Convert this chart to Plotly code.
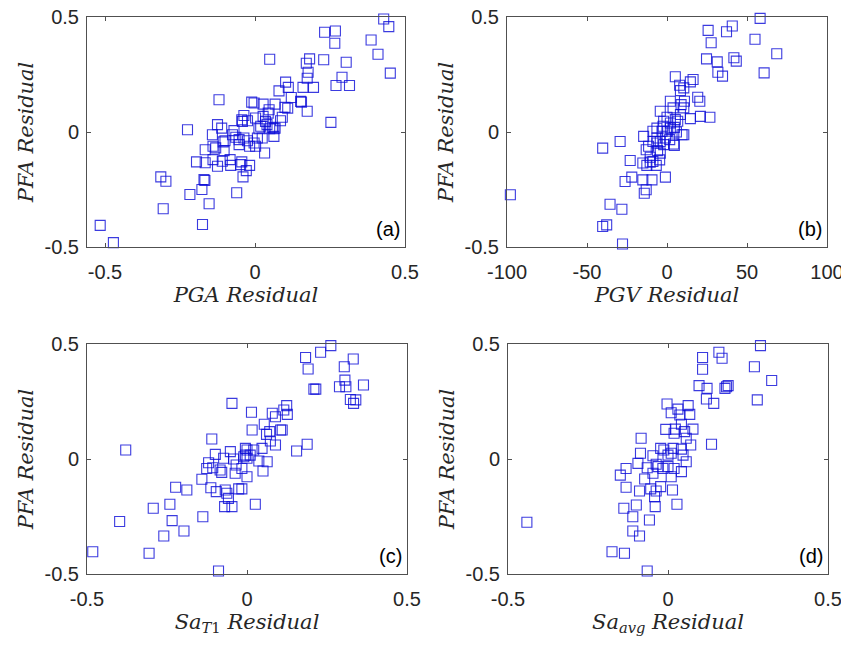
import plotly.graph_objects as go

# ---------------- data ----------------
# Panel (a): PGA residual vs PFA residual
pga_x = [0.429, 0.446, 0.232, 0.268, 0.266, 0.387, 0.41, 0.451, 0.049, 0.182, 0.171, 0.229, 0.304,
         0.29, 0.27, 0.315, 0.177, 0.174, 0.16, 0.195, 0.102, 0.111, 0.08, 0.121, 0.152, 0.155, 0.174,
         0.1, 0.109, 0.067, 0.027, -0.011, -0.003, -0.12, 0.047, 0.044, 0.091, 0.085, 0.253, -0.037,
         -0.044, -0.042, -0.025, 0.002, 0.027, 0.035, 0.04, 0.058, 0.067, 0.063, 0.049, 0.019, 0.013,
         0.063, -0.225, -0.125, -0.111, -0.142, -0.1, -0.106, -0.064, -0.053, -0.037, -0.025, -0.003,
         0.008, 0.024, -0.07, -0.075, -0.053, -0.018, 0.002, -0.14, -0.131, -0.166, -0.103, 0.032,
         -0.195, -0.166, -0.14, -0.109, -0.083, -0.081, -0.125, -0.044, -0.048, -0.018, -0.029, -0.04,
         -0.314, -0.297, -0.17, -0.167, -0.217, -0.177, -0.061, -0.153, -0.306, -0.516, -0.175, -0.472,
         -0.561]
pga_y = [0.491, 0.458, 0.434, 0.439, 0.386, 0.4, 0.338, 0.256, 0.316, 0.318, 0.299, 0.314, 0.303,
         0.238, 0.202, 0.202, 0.26, 0.234, 0.194, 0.194, 0.217, 0.194, 0.179, 0.15, 0.133, 0.13, 0.09,
         0.107, 0.104, 0.121, 0.121, 0.13, 0.126, 0.14, 0.097, 0.082, 0.064, 0.049, 0.042, 0.072,
         0.053, 0.046, 0.049, 0.061, 0.068, 0.046, 0.032, 0.02, 0.017, 0.014, 0.014, 0.025, 0.014,
         -0.019, 0.01, 0.032, 0.017, -0.012, -0.038, -0.043, -0.023, -0.033, -0.026, -0.038, -0.048,
         -0.026, -0.026, 0.006, -0.012, -0.055, -0.062, -0.062, -0.062, -0.069, -0.077, -0.081, -0.091,
         -0.13, -0.134, -0.12, -0.127, -0.12, -0.145, -0.149, -0.13, -0.142, -0.145, -0.168, -0.195,
         -0.195, -0.214, -0.207, -0.211, -0.272, -0.25, -0.264, -0.312, -0.334, -0.406, -0.402, -0.481,
         -0.503]

# Panel (b): PGV residual vs PFA residual
pgv_x = [58.2, 40.8, 37.2, 25.7, 27.6, 55, 68.6, 41.8, 43.3, 24.7, 31.4, 31.8, 34.7, 60.7, 5.2, 16.3,
         14.6, 7.9, 8.4, 10.5, 19.2, 20.5, 2.1, 10.9, 8.8, 10.5, 3.8, -4.2, 0, 8.4, 14.6, 20.9, 26.8,
         5.2, 6.7, 2.1, -2.1, -2.5, 2.1, 4.6, -6.3, -8.8, -14.6, -3.1, 0.4, 5.9, 9.4, 10.5, -6.3, -1,
         1.7, -8.8, -4.2, -6.3, 4.2, 4.6, -2.1, -11.5, -29.3, -40.2, -5.9, -13, -4.2, -10.5, -4.6, -23,
         -15.1, -10.5, -12.6, -6.7, -8.8, -1, -22, -26.2, -15.1, -9.4, -13, -14.2, -97.9, -35.6, -28.2,
         -40.2, -37.7, -27.8, -45.6]
pgv_y = [0.494, 0.461, 0.436, 0.442, 0.388, 0.403, 0.34, 0.323, 0.308, 0.318, 0.305, 0.26, 0.243,
         0.257, 0.24, 0.228, 0.218, 0.203, 0.18, 0.192, 0.151, 0.134, 0.134, 0.134, 0.119, 0.105,
         0.105, 0.09, 0.064, 0.076, 0.058, 0.068, 0.064, 0.054, 0.047, 0.039, 0.047, 0.025, 0.017,
         0.02, 0.017, 0.003, -0.019, 0.003, 0.003, 0, -0.012, -0.012, -0.026, -0.026, -0.033, -0.041,
         -0.041, -0.048, -0.052, -0.058, -0.055, -0.062, -0.041, -0.07, -0.081, -0.077, -0.092, -0.11,
         -0.121, -0.124, -0.135, -0.131, -0.145, -0.145, -0.128, -0.196, -0.196, -0.215, -0.208,
         -0.208, -0.251, -0.266, -0.273, -0.314, -0.336, -0.411, -0.404, -0.487, -0.506]

# Panel (c): Sa(T1) residual vs PFA residual
sat1_x = [0.262, 0.23, 0.183, 0.191, 0.332, 0.304, 0.306, 0.289, 0.309, 0.364, 0.209, 0.215, 0.323,
          0.333, 0.34, -0.047, 0.014, 0.079, 0.124, 0.126, 0.115, 0.089, 0.054, 0.061, 0.071, 0.016,
          0.105, 0.11, 0.073, 0.089, 0.188, 0.155, -0.11, -0.379, 0.0, -0.005, 0.021, 0.047, -0.01,
          -0.005, 0, 0.01, -0.099, -0.073, -0.052, -0.042, 0.037, 0.063, -0.12, -0.126, -0.107, -0.084,
          -0.079, -0.034, -0.037, -0.016, 0, 0.05, -0.141, -0.223, -0.188, -0.113, -0.096, -0.068,
          -0.063, -0.026, -0.016, -0.058, -0.07, -0.047, 0.026, -0.241, -0.293, -0.138, -0.234, -0.398,
          -0.197, -0.26, -0.482, -0.306, -0.089, -0.188]
sat1_y = [0.493, 0.464, 0.441, 0.391, 0.435, 0.401, 0.343, 0.314, 0.314, 0.322, 0.304, 0.304, 0.259,
          0.242, 0.257, 0.242, 0.203, 0.199, 0.232, 0.194, 0.213, 0.184, 0.151, 0.107, 0.119, 0.126,
          0.126, 0.126, 0.078, 0.061, 0.064, 0.035, 0.087, 0.039, 0.039, 0.046, 0.039, 0.046, 0.01,
          0.017, 0.003, 0.017, 0.02, 0.003, 0.032, 0, -0.009, -0.012, -0.016, -0.041, -0.038, -0.048,
          -0.058, -0.026, -0.062, -0.041, -0.077, -0.052, -0.088, -0.123, -0.135, -0.125, -0.142,
          -0.135, -0.149, -0.13, -0.13, -0.171, -0.207, -0.207, -0.197, -0.197, -0.214, -0.251, -0.268,
          -0.272, -0.313, -0.335, -0.403, -0.41, -0.487, -0.509]

# Panel (d): Sa(avg) residual vs PFA residual
saavg_x = [0.289, 0.159, 0.169, 0.108, 0.108, 0.27, 0.324, 0.183, 0.178, 0.188, 0.097, 0.122, 0.12,
           0.143, 0.279, -0.003, 0.031, 0.063, 0.068, 0.01, 0.037, 0.042, 0.078, -0.007, 0.023, 0.019,
           0.052, 0.057, 0.071, 0.136, -0.084, -0.023, -0.013, 0.016, 0.042, -0.086, -0.047, 0, 0.01,
           0.047, -0.094, -0.131, -0.149, -0.065, -0.037, -0.031, -0.016, 0, 0.019, 0.057, 0.042,
           -0.073, -0.047, 0.01, -0.131, -0.089, -0.054, -0.037, -0.042, -0.023, 0.014, -0.138, -0.099,
           -0.04, 0.028, -0.11, -0.058, -0.441, -0.11, -0.089, -0.175, -0.136, -0.092, -0.065]
saavg_y = [0.493, 0.464, 0.438, 0.441, 0.39, 0.401, 0.341, 0.314, 0.307, 0.319, 0.319, 0.307, 0.261,
           0.242, 0.257, 0.239, 0.217, 0.232, 0.194, 0.201, 0.191, 0.151, 0.13, 0.129, 0.13, 0.112,
           0.119, 0.09, 0.061, 0.064, 0.09, 0.046, 0.039, 0.046, 0.043, 0.025, 0.014, 0.017, 0.025,
           0.017, -0.019, -0.041, -0.07, -0.038, -0.023, -0.033, -0.041, -0.033, -0.041, -0.012,
           -0.055, -0.087, -0.062, -0.077, -0.123, -0.139, -0.13, -0.139, -0.164, -0.12, -0.135,
           -0.214, -0.2, -0.207, -0.197, -0.251, -0.265, -0.275, -0.313, -0.335, -0.403, -0.41,
           -0.507, -0.487]

panel_letters = ["(a)", "(b)", "(c)", "(d)"]
x_titles = ["<i>PGA Residual</i>", "<i>PGV Residual</i>",
            "<i>Sa</i><sub><i>T</i>1</sub> <i>Residual</i>",
            "<i>Sa</i><sub><i>avg</i></sub> <i>Residual</i>"]
y_title = "<i>PFA Residual</i>"

x_ranges = [[-0.56, 0.5], [-100, 100], [-0.5, 0.5], [-0.5, 0.5]]
x_ticks = [[-0.5, 0, 0.5], [-100, -50, 0, 50, 100], [-0.5, 0, 0.5], [-0.5, 0, 0.5]]
x_ticktext = [["-0.5", "0", "0.5"], ["-100", "-50", "0", "50", "100"],
              ["-0.5", "0", "0.5"], ["-0.5", "0", "0.5"]]
y_ticks = [-0.5, 0, 0.5]
y_ticktext = ["-0.5", "0", "0.5"]

# ---------------- figure ----------------
# page body has an 8px margin, so the figure is drawn 8px in from the window edge
OFF = 8
W, H = 849 - OFF, 645 - OFF


def fx(p0, p1):
    return [(p0 - OFF) / W, (p1 - OFF) / W]


def fy(top, bottom):
    return [1 - (bottom - OFF) / H, 1 - (top - OFF) / H]


x_domains = [fx(87, 405), fx(507, 827), fx(87, 407), fx(508, 828)]
y_domains = [fy(17, 247), fy(17, 247), fy(344, 574), fy(344, 574)]

xs = [pga_x, pgv_x, sat1_x, saavg_x]
ys = [pga_y, pgv_y, sat1_y, saavg_y]

fig = go.Figure()
axis_color = "rgb(80,80,80)"
tick_font = dict(family="Liberation Sans, Arial, sans-serif", size=20, color="rgb(38,38,38)")
title_font = dict(family="DejaVu Serif, serif", size=21, color="rgb(38,38,38)")

layout = {}
for i in range(4):
    n = "" if i == 0 else str(i + 1)
    fig.add_trace(go.Scatter(
        x=xs[i], y=ys[i], mode="markers",
        marker=dict(symbol="square-open", size=10, color="rgba(10,10,215,0.8)",
                    line=dict(width=1.1)),
        xaxis="x" + n, yaxis="y" + n, showlegend=False, cliponaxis=False,
    ))
    layout["xaxis" + n] = dict(
        domain=x_domains[i], anchor="y" + n, range=x_ranges[i],
        tickmode="array", tickvals=x_ticks[i], ticktext=x_ticktext[i],
        ticks="inside", ticklen=4, tickcolor=axis_color, tickwidth=1,
        showline=True, linecolor=axis_color, linewidth=1, mirror="ticks",
        showgrid=False, zeroline=False, tickfont=tick_font, ticklabelstandoff=7,
        ticklabeloverflow="allow",
        title=dict(text=x_titles[i], font=title_font, standoff=3),
        automargin=False,
    )
    layout["yaxis" + n] = dict(
        domain=y_domains[i], anchor="x" + n, range=[-0.5, 0.5],
        tickmode="array", tickvals=y_ticks, ticktext=y_ticktext,
        ticks="inside", ticklen=4, tickcolor=axis_color, tickwidth=1,
        showline=True, linecolor=axis_color, linewidth=1, mirror="ticks",
        showgrid=False, zeroline=False, tickfont=tick_font, ticklabelstandoff=3,
        ticklabeloverflow="allow",
        title=dict(text=y_title, font=title_font, standoff=5),
        automargin=False,
    )

annotations = []
for i in range(4):
    n = "" if i == 0 else str(i + 1)
    annotations.append(dict(
        text=panel_letters[i], xref="x" + n + " domain", yref="y" + n + " domain",
        x=0.99, y=0.02, xanchor="right", yanchor="bottom", showarrow=False,
        font=dict(family="Liberation Sans, Arial, sans-serif", size=20, color="black"),
    ))

fig.update_layout(
    **layout,
    annotations=annotations,
    width=W, height=H,
    margin=dict(l=0, r=0, t=0, b=0),
    paper_bgcolor="white", plot_bgcolor="white",
)

fig.write_html("out.html")
